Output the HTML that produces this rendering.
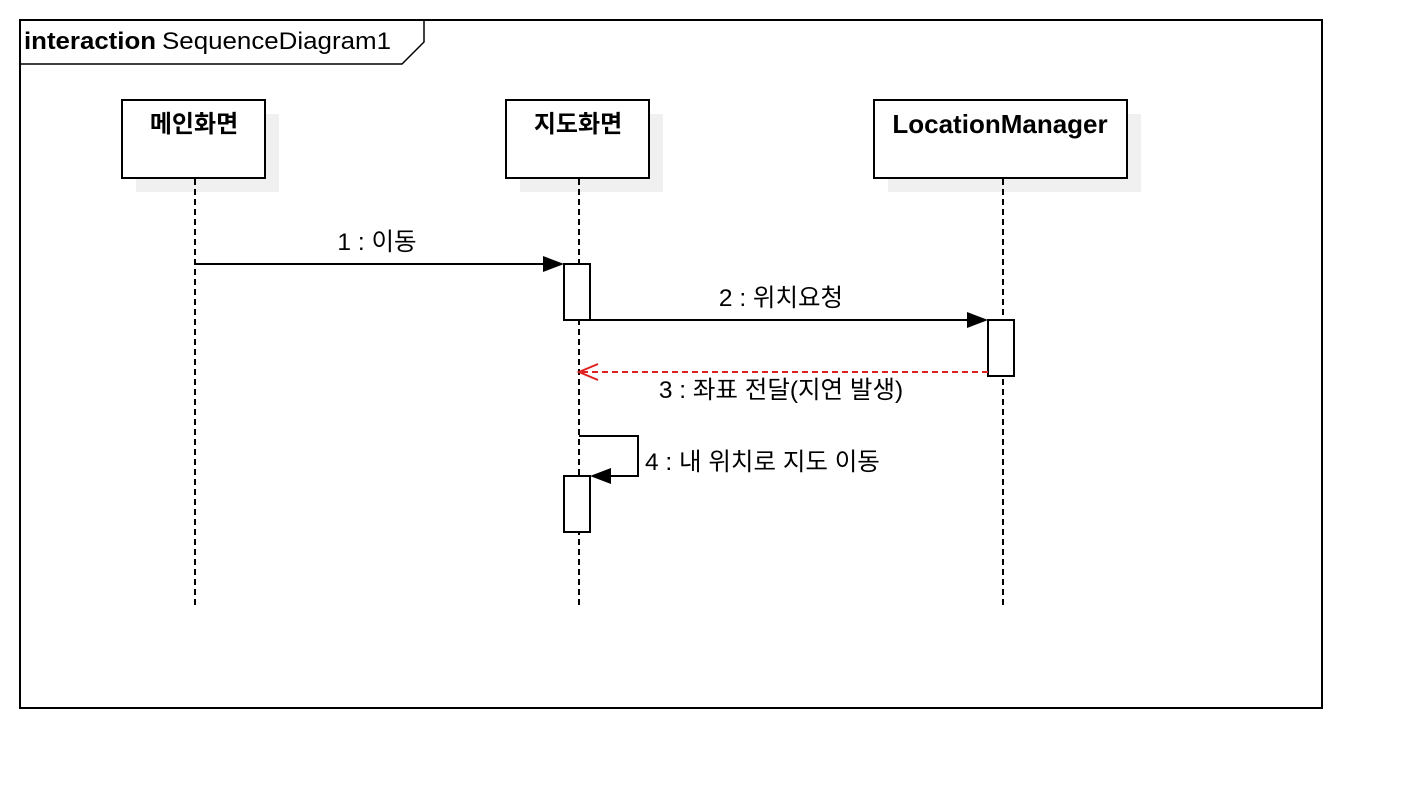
<!DOCTYPE html>
<html><head><meta charset="utf-8"><style>html,body{margin:0;padding:0;background:#fff}svg{display:block}</style></head>
<body>
<svg width="1402" height="788" viewBox="0 0 1402 788" xmlns="http://www.w3.org/2000/svg" font-family="Liberation Sans, Noto Sans CJK KR, sans-serif">
<rect width="1402" height="788" fill="#fff"/>
<rect x="20" y="20" width="1302" height="688" fill="none" stroke="#000" stroke-width="2"/>
<path d="M20,64 H402 L424,42 V20" fill="none" stroke="#000" stroke-width="1.5"/>
<text x="24" y="49" font-size="24" font-weight="bold" textLength="132" lengthAdjust="spacingAndGlyphs">interaction</text>
<text x="162" y="49" font-size="24" textLength="229" lengthAdjust="spacingAndGlyphs">SequenceDiagram1</text>
<g fill="#f0f0f0">
<rect x="136" y="114" width="143" height="78"/>
<rect x="520" y="114" width="143" height="78"/>
<rect x="888" y="114" width="253" height="78"/>
</g>
<g fill="#fff" stroke="#000" stroke-width="2">
<rect x="122" y="100" width="143" height="78"/>
<rect x="506" y="100" width="143" height="78"/>
<rect x="874" y="100" width="253" height="78"/>
</g>
<g font-size="24" font-weight="bold" text-anchor="middle">
<text x="194" y="132">메인화면</text>
<text x="578" y="132">지도화면</text>
<text x="1000" y="133" font-size="26">LocationManager</text>
</g>
<g stroke="#000" stroke-width="2" stroke-dasharray="6,4">
<line x1="195" y1="179" x2="195" y2="606"/>
<line x1="579" y1="179" x2="579" y2="606"/>
<line x1="1003" y1="179" x2="1003" y2="606"/>
</g>
<g fill="#fff" stroke="#000" stroke-width="2">
<rect x="564" y="264" width="26" height="56"/>
<rect x="988" y="320" width="26" height="56"/>
<rect x="564" y="476" width="26" height="56"/>
</g>
<g stroke="#000" stroke-width="2" fill="none">
<line x1="195" y1="264" x2="546" y2="264"/>
<line x1="590" y1="320" x2="970" y2="320"/>
<path d="M579,436 H638 V476 H608"/>
</g>
<g fill="#000">
<path d="M564,264 L543,256 L543,272 Z"/>
<path d="M988,320 L967,312 L967,328 Z"/>
<path d="M590,476 L611,468 L611,484 Z"/>
</g>
<line x1="988" y1="372" x2="581" y2="372" stroke="#e02020" stroke-width="2" stroke-dasharray="6,4"/>
<path d="M598,364 L579,372 L598,380" fill="none" stroke="#e02020" stroke-width="2"/>
<g font-size="24.5">
<text x="377" y="250" text-anchor="middle">1 : 이동</text>
<text x="781" y="306" text-anchor="middle">2 : 위치요청</text>
<text x="781" y="398" text-anchor="middle">3 : 좌표 전달(지연 발생)</text>
<text x="645" y="470">4 : 내 위치로 지도 이동</text>
</g>
</svg>
</body></html>
